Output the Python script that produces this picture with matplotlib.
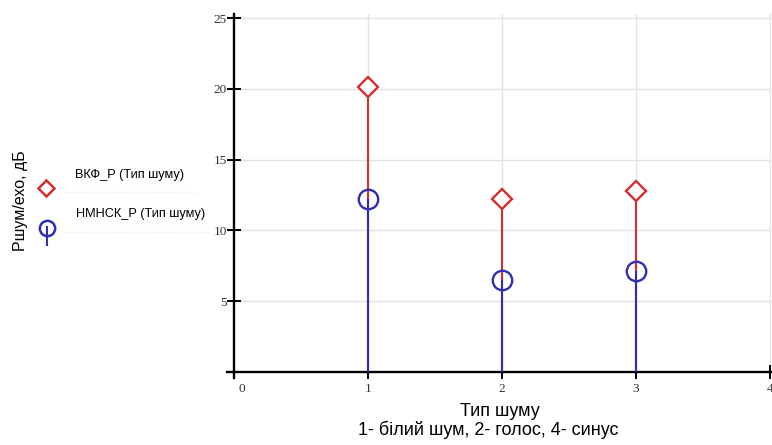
import matplotlib.pyplot as plt
from matplotlib.lines import Line2D
from matplotlib.transforms import ScaledTranslation

# тип шуму: 1 - білий шум, 2 - голос, 3 - синус
noise_type = [1, 2, 3]
vkf_p = [20.1, 12.2, 12.75]
nmnsk_p = [12.2, 6.5, 7.15]

x_ticks = [0, 1, 2, 3, 4]
y_ticks = [5, 10, 15, 20, 25]

red = '#d42f2f'
blue = '#2f2fb5'

fig = plt.figure(figsize=(7.72, 4.45), dpi=100)
ax = fig.add_axes([0.2944, 0.1513, 0.7048, 0.8177])

ax.set_xlim(-0.05, 4.01)
ax.set_ylim(-0.4, 25.3)

# сітка
for xv in x_ticks[1:]:
    ax.axvline(xv, color='#e2e2e2', lw=1, zorder=0)
for yv in y_ticks:
    ax.axhline(yv, color='#e2e2e2', lw=1, zorder=0)

# стовпчики
ax.vlines(noise_type, 0, vkf_p, color=red, lw=1.5, zorder=2)
ax.plot(noise_type, vkf_p, 'D', ms=10, mfc='white', mec=red, mew=1.7, zorder=3)
ax.vlines(noise_type, 0, nmnsk_p, color=blue, lw=1.5, zorder=4)
ax.plot(noise_type, nmnsk_p, 'o', ms=14, mfc='none', mec=blue, mew=1.7, zorder=5)

for s in ['top', 'right']:
    ax.spines[s].set_visible(False)
ax.spines['left'].set_position(('data', 0))
ax.spines['bottom'].set_position(('data', 0))
ax.spines['left'].set_linewidth(1.7)
ax.spines['bottom'].set_linewidth(1.7)

ax.set_xticks(x_ticks)
ax.set_yticks(y_ticks)
ax.set_xticklabels([str(v) for v in x_ticks], family='Liberation Serif', fontsize=9.5, color='#333333')
ax.set_yticklabels([str(v) for v in y_ticks], family='Liberation Serif', fontsize=9.5, color='#333333')
ax.tick_params(direction='inout', length=10, width=1.4)
ax.tick_params(axis='x', pad=3)
ax.tick_params(axis='y', pad=0)

# "0" трохи правіше, як у Mathcad
lbl0 = ax.get_xticklabels()[0]
lbl0.set_transform(lbl0.get_transform() + ScaledTranslation(8 / 100, 0, fig.dpi_scale_trans))

fig.text(0.647, 0.076, 'Тип шуму', ha='center', va='center',
         family='Liberation Sans', fontsize=13)
fig.text(0.633, 0.034, '1- білий шум, 2- голос, 4- синус', ha='center', va='center',
         family='Liberation Sans', fontsize=13)
fig.text(0.027, 0.55, 'Pшум/ехо, дБ', rotation=90, ha='center', va='center',
         family='Liberation Sans', fontsize=11.5)

# легенда
fig.text(0.097, 0.607, 'ВКФ_Р (Тип шуму)', family='Liberation Sans', fontsize=9.2, va='center')
fig.text(0.099, 0.519, 'НМНСК_Р (Тип шуму)', family='Liberation Sans', fontsize=9.2, va='center')
fig.add_artist(Line2D([0.059], [0.578], marker='D', ms=8, mfc='white', mec=red, mew=1.8,
                      transform=fig.transFigure))
fig.add_artist(Line2D([0.061, 0.061], [0.45, 0.49], color=blue, lw=1.5,
                      transform=fig.transFigure))
fig.add_artist(Line2D([0.061], [0.487], marker='o', ms=11, mfc='none', mec=blue, mew=1.8,
                      transform=fig.transFigure))
fig.add_artist(Line2D([0.078, 0.255], [0.568, 0.568], color='#ececec', lw=1, ls=':',
                      transform=fig.transFigure))
fig.add_artist(Line2D([0.078, 0.27], [0.478, 0.478], color='#ececec', lw=1, ls=':',
                      transform=fig.transFigure))

fig.savefig('out.png', dpi=100)
